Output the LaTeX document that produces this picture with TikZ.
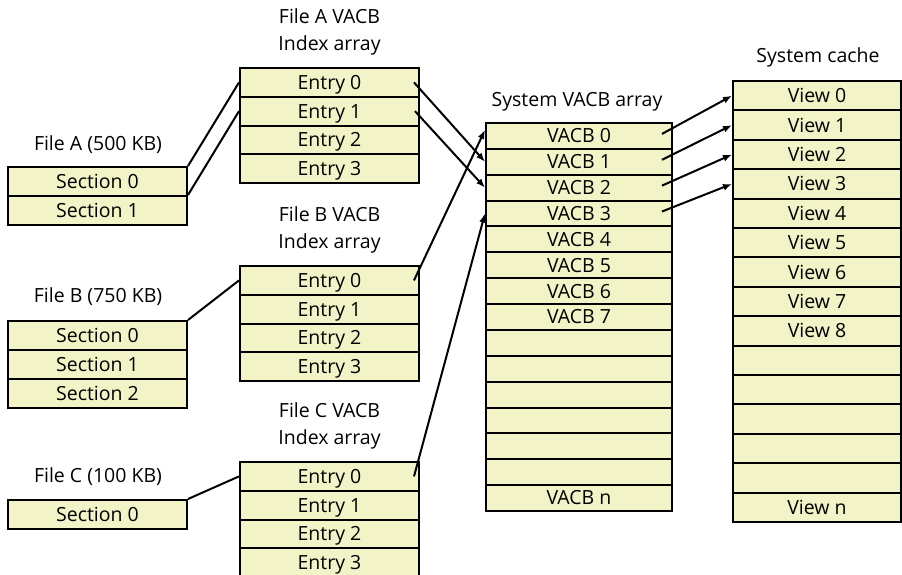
\documentclass[tikz,border=0pt]{standalone}
\usepackage{fontspec}
\setmainfont{Open Sans}
\usetikzlibrary{arrows.meta}
\definecolor{cellfill}{HTML}{F2F3C6}

\begin{document}
\begin{tikzpicture}[x=1pt, y=-1pt,
  cell/.style={rectangle, draw=black, fill=cellfill, line width=2pt, inner sep=0pt,
               text height=13.8pt, text depth=0pt, font=\fontsize{19.5}{19.5}\selectfont},
  sec/.style={cell, minimum width=179pt, minimum height=29pt},
  idx/.style={cell, minimum width=179pt, minimum height=28.75pt},
  vacb/.style={cell, minimum width=186pt, minimum height=25.87pt},
  view/.style={cell, minimum width=168pt, minimum height=29.4pt},
  ttl/.style={align=center, font=\fontsize{19.5}{27}\selectfont},
  link/.style={line width=2pt},
  ptr/.style={line width=2pt, -{Latex[length=9pt, width=7pt]}},
]
\useasboundingbox (0,0) rectangle (902,574);

% files and their sections
\node[ttl] (fileA) at (98, 145) {File A (500 KB)};
\foreach \i in {0,1}
  \node[sec] (secA\i) at (97.5, {181.5+29*\i}) {Section \i};
\node[ttl] (fileB) at (98, 297) {File B (750 KB)};
\foreach \i in {0,1,2}
  \node[sec] (secB\i) at (97.5, {335.5+29*\i}) {Section \i};
\node[ttl] (fileC) at (98, 477) {File C (100 KB)};
\node[sec] (secC0) at (97.5, 514.5) {Section 0};

% per-file VACB index arrays
\node[ttl] (idxAttl) at (329.5, 31.5) {File A VACB\\Index array};
\node[ttl] (idxBttl) at (329.5, 229.5) {File B VACB\\Index array};
\node[ttl] (idxCttl) at (329.5, 426) {File C VACB\\Index array};
\foreach \i in {0,...,3} {
  \node[idx] (idxA\i) at (329.5, {82.4+28.75*\i}) {Entry \i};
  \node[idx] (idxB\i) at (329.5, {280.4+28.75*\i}) {Entry \i};
  \node[idx] (idxC\i) at (329.5, {476.4+28.75*\i}) {Entry \i};
}

% system VACB array
\node[ttl] (vacbttl) at (577, 102) {System VACB array};
\foreach \i/\t in {0/0,1/1,2/2,3/3,4/4,5/5,6/6,7/7,14/n}
  \node[vacb] (vacb\i) at (579, {135.9+25.87*\i}) {VACB \t};
\foreach \i in {8,...,13}
  \node[vacb] (vacb\i) at (579, {135.9+25.87*\i}) {};

% system cache views
\node[ttl] (cachettl) at (818, 57) {System cache};
\foreach \i/\t in {0/0,1/1,2/2,3/3,4/4,5/5,6/6,7/7,8/8,14/n}
  \node[view] (view\i) at (817, {95.7+29.4*\i}) {View \t};
\foreach \i in {9,...,13}
  \node[view] (view\i) at (817, {95.7+29.4*\i}) {};

% sections -> index entries
\draw[link] (secA0.north east) -- (idxA0.west);
\draw[link] (secA1.north east) -- (idxA1.west);
\draw[link] (secB0.north east) -- (idxB0.west);
\draw[link] (secC0.north east) -- (idxC0.west);

% index entries -> VACBs
\draw[ptr] ([xshift=-6pt]idxA0.east) -- (vacb1.west);
\draw[ptr] ([xshift=-5pt]idxA1.east) -- (vacb2.west);
\draw[ptr] ([xshift=-6pt]idxB0.east) -- ([yshift=6pt]vacb0.west);
\draw[ptr] ([xshift=-6pt]idxC0.east) -- (vacb3.west);

% VACBs -> views
\foreach \i in {0,...,3}
  \draw[ptr] ([xshift=-11pt, yshift=2pt]vacb\i.east) -- (view\i.west);
\end{tikzpicture}
\end{document}
